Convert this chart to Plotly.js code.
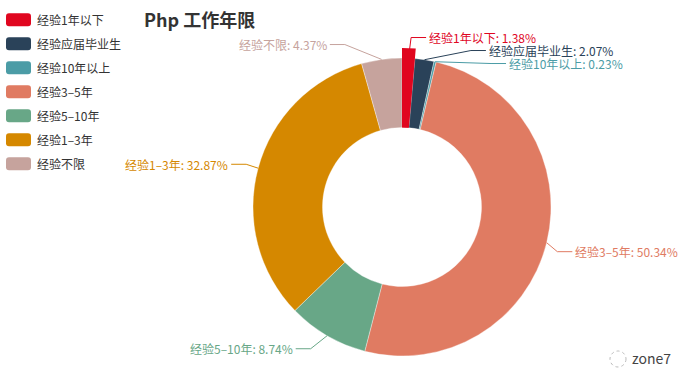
<!DOCTYPE html>
<html><head><meta charset="utf-8">
<script src="https://cdn.plot.ly/plotly-3.0.1.min.js"></script>
<style>html,body{margin:0;padding:0;background:#fff}#chart{width:700px;height:387px}</style>
</head><body><div id="chart"></div>
<script>
// ---- data ----
const categories = ['经验1年以下', '经验应届毕业生', '经验10年以上', '经验3–5年', '经验5–10年', '经验1–3年', '经验不限'];
const values = [1.38, 2.07, 0.23, 50.34, 8.74, 32.87, 4.37];
const colors = ['#e0061f', '#2a4259', '#4b9ca6', '#e07b62', '#68a787', '#d58800', '#c6a39d'];
const highlighted = '经验1年以下';
const titleText = 'Php 工作年限';
const watermark = 'zone7';

// ---- layout constants ----
const W = 700, H = 387;
const cx = 402, cy = 207, R = 149, R0 = 79.5, hoverOffset = 10;
const len1 = 15, len2 = 15, labelH = 13;
const FONT = '"Noto Sans CJK SC", "Noto Sans", sans-serif';
const px = x => x / W, py = y => 1 - y / H;

// ---- label layout (ECharts-like) ----
const total = values.reduce((a, b) => a + b, 0);
let acc = 0;
const labels = values.map((v, i) => {
  const mid = (acc + v / 2) / total * 2 * Math.PI; acc += v;
  const dx = Math.sin(mid), dy = -Math.cos(mid);
  const dir = dx < 0 ? -1 : 1;
  const x1 = cx + R * dx, y1 = cy + R * dy;
  const x2 = cx + (R + len1) * dx, y2 = cy + (R + len1) * dy;
  const x3 = x2 + dir * len2;
  return {i, x1, y1, x: x3 + dir * 5, y: y2, dir};
});

function adjustSide(list, dir) {
  list.sort((a, b) => a.y - b.y);
  function shiftUp(end, delta) {
    for (let j = end; j >= 0; j--) {
      list[j].y -= delta;
      if (j > 0 && list[j].y > list[j - 1].y + labelH) break;
    }
  }
  function shiftDown(start, end, delta) {
    for (let j = start; j < end; j++) {
      list[j].y += delta;
      if (j > start && j + 1 < end && list[j + 1].y > list[j].y + labelH) {
        shiftUp(j, delta / 2); return;
      }
    }
    shiftUp(end - 1, delta / 2);
  }
  let lastY = 0;
  for (let i = 0; i < list.length; i++) {
    const d = list[i].y - lastY;
    if (d < 0) shiftDown(i, list.length, -d);
    lastY = list[i].y + labelH;
  }
  const up = list.filter(l => l.y < cy), down = list.filter(l => l.y >= cy);
  function changeX(arr, isDown) {
    let last = isDown ? Number.MAX_VALUE : 0;
    arr.forEach(l => {
      const dY = Math.abs(l.y - cy);
      let dX = dY < R + len1 ? Math.sqrt((R + len1 + len2) ** 2 - dY * dY) : Math.abs(l.x - cx);
      if (isDown && dX >= last) dX = last - 10;
      if (!isDown && dX <= last) dX = last + 10;
      l.x = cx + dX * dir;
      last = dX;
    });
  }
  changeX(up, false);
  changeX(down, true);
}
adjustSide(labels.filter(l => l.x >= cx), 1);
adjustSide(labels.filter(l => l.x < cx), -1);

const shapes = [];
const annotations = [];
labels.forEach(l => {
  const lx = l.x - l.dir * 3;
  const ex = lx - l.dir * len2;
  shapes.push({
    type: 'path', xref: 'paper', yref: 'paper',
    path: `M ${px(l.x1)} ${py(l.y1)} L ${px(ex)} ${py(l.y)} L ${px(lx)} ${py(l.y)}`,
    line: {color: colors[l.i], width: 1}
  });
  annotations.push({
    xref: 'paper', yref: 'paper', x: px(l.x), y: py(l.y),
    xanchor: l.dir > 0 ? 'left' : 'right', yanchor: 'middle',
    text: categories[l.i] + ': ' + values[l.i] + '%', showarrow: false,
    borderpad: 0, borderwidth: 0,
    font: {family: FONT, size: 12, color: colors[l.i]}
  });
});

// ---- custom legend ----
const legX = 6, legW = 25, legH = 13, legTop = 19.7, legGap = 24, rr = 3;
function roundRect(x0, y0, w, h, r) {
  const x1 = x0 + w, y1 = y0 + h;
  const P = (x, y) => `${px(x)},${py(y)}`;
  return `M ${P(x0 + r, y0)} L ${P(x1 - r, y0)} Q ${P(x1, y0)} ${P(x1, y0 + r)} L ${P(x1, y1 - r)} Q ${P(x1, y1)} ${P(x1 - r, y1)} L ${P(x0 + r, y1)} Q ${P(x0, y1)} ${P(x0, y1 - r)} L ${P(x0, y0 + r)} Q ${P(x0, y0)} ${P(x0 + r, y0)} Z`;
}
categories.forEach((c, i) => {
  const yc = legTop + legGap * i;
  shapes.push({type: 'path', xref: 'paper', yref: 'paper', path: roundRect(legX, yc - legH / 2, legW, legH, rr),
    fillcolor: colors[i], line: {width: 0}});
  annotations.push({xref: 'paper', yref: 'paper', x: px(legX + legW + 5), y: py(yc), xanchor: 'left', yanchor: 'middle',
    text: c, showarrow: false, borderpad: 0, font: {family: FONT, size: 12, color: '#333'}});
});

// watermark
annotations.push({xref: 'paper', yref: 'paper', x: px(631), y: py(358), xanchor: 'left', yanchor: 'middle',
  text: watermark, showarrow: false, borderpad: 0, font: {family: FONT, size: 14, color: '#444'}});
shapes.push({type: 'circle', xref: 'paper', yref: 'paper', x0: px(610), x1: px(626), y0: py(351), y1: py(367),
  line: {color: '#bbb', width: 1, dash: 'dot'}});

const traces = [
  {
    type: 'pie', labels: categories, values: values, sort: false, direction: 'clockwise', rotation: 0,
    hole: R0 / R, textinfo: 'none', textposition: 'none', showlegend: false, hoverinfo: 'label+percent',
    marker: {colors: colors, line: {color: 'rgba(255,255,255,0.7)', width: 0.5}},
    domain: {x: [px(cx - R), px(cx + R)], y: [py(cy + R), py(cy - R)]}
  },
  {
    type: 'pie', labels: categories, values: values, sort: false, direction: 'clockwise', rotation: 0,
    hole: R0 / (R + hoverOffset), textinfo: 'none', textposition: 'none', showlegend: false, hoverinfo: 'skip',
    marker: {colors: categories.map((c, i) => c === highlighted ? colors[i] : 'rgba(0,0,0,0)'), line: {width: 0}},
    domain: {x: [px(cx - R - hoverOffset), px(cx + R + hoverOffset)], y: [py(cy + R + hoverOffset), py(cy - R - hoverOffset)]}
  }
];

const layout = {
  width: W, height: H, margin: {l: 0, r: 0, t: 0, b: 0},
  paper_bgcolor: '#fff', plot_bgcolor: '#fff', showlegend: false,
  title: {text: titleText, x: px(144), xanchor: 'left', y: py(21), yanchor: 'middle', xref: 'paper', yref: 'paper',
    font: {family: FONT, size: 18, color: '#333', weight: 'bold'}},
  shapes: shapes, annotations: annotations
};
Plotly.newPlot('chart', traces, layout, {displayModeBar: false, staticPlot: true});
</script></body></html>
